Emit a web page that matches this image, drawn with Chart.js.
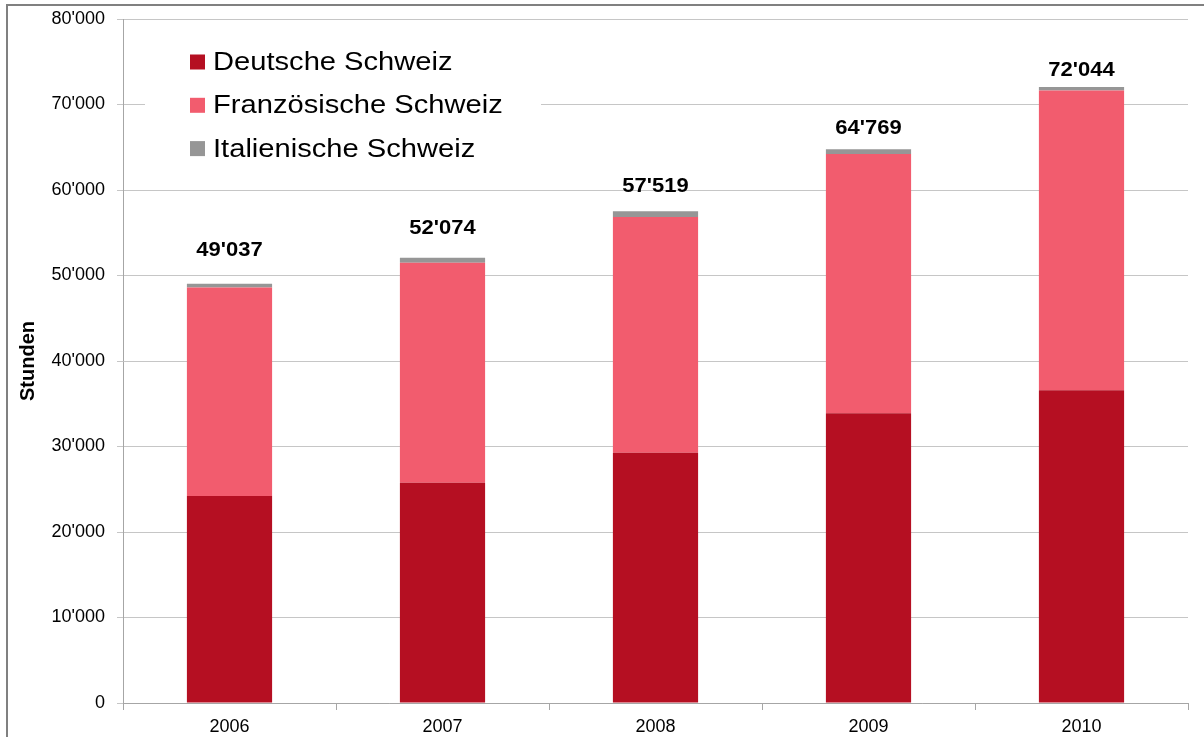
<!DOCTYPE html>
<html>
<head>
<meta charset="utf-8">
<script src="https://cdn.jsdelivr.net/npm/chart.js@4"></script>
<style>
  html, body { margin: 0; padding: 0; background: #fff; }
  #c { display: block; }
</style>
</head>
<body>
<canvas id="c" width="1204" height="737"></canvas>
<script>
// values (Stunden)
var years = ['2006', '2007', '2008', '2009', '2010'];
var deutsch = [24200, 25770, 29270, 33880, 36570];
var franz = [24407, 25719, 27584, 30339, 35074];
var ital = [430, 585, 665, 550, 400];
var seriesNames = ['Deutsche Schweiz', 'Französische Schweiz', 'Italienische Schweiz'];
var seriesColors = ['#b50f22', '#f25c6e', '#969696'];
var yTicks = [0, 10000, 20000, 30000, 40000, 50000, 60000, 70000, 80000];

function fmt(v) {
    return String(v).replace(/\B(?=(\d{3})+(?!\d))/g, "'");
}

// grey frame (only left and top edges are visible)
const framePlugin = {
    id: 'frame',
    beforeDraw(chart) {
        const ctx = chart.ctx;
        ctx.save();
        ctx.fillStyle = '#fff';
        ctx.fillRect(0, 0, chart.width, chart.height);
        ctx.strokeStyle = '#808080';
        ctx.lineWidth = 2;
        ctx.beginPath();
        ctx.moveTo(7, 800);
        ctx.lineTo(7, 5);
        ctx.lineTo(1210, 5);
        ctx.stroke();
        ctx.restore();
    }
};

// legend box sitting inside the plot, plus the totals above the bars
const extrasPlugin = {
    id: 'extras',
    afterDatasetsDraw(chart) {
        const ctx = chart.ctx;
        ctx.save();
        // legend
        ctx.fillStyle = '#fff';
        ctx.fillRect(145, 32, 396, 136);
        ctx.font = '26px "Liberation Sans", Arial, sans-serif';
        ctx.textBaseline = 'middle';
        ctx.textAlign = 'left';
        chart.data.datasets.forEach(function (ds, i) {
            const cy = 62 + i * 43.3;
            ctx.fillStyle = ds.backgroundColor;
            ctx.fillRect(190, cy - 7.5, 15, 15);
            ctx.save();
            ctx.translate(213, cy + 1);
            ctx.scale(1.12, 1);
            ctx.fillStyle = '#000';
            ctx.fillText(ds.label, 0, 0);
            ctx.restore();
        });
        // totals
        const ys = chart.scales.y;
        const meta = chart.getDatasetMeta(0);
        ctx.font = 'bold 20px "Liberation Sans", Arial, sans-serif';
        ctx.textAlign = 'center';
        ctx.textBaseline = 'middle';
        ctx.fillStyle = '#000';
        years.forEach(function (y, i) {
            const total = deutsch[i] + franz[i] + ital[i];
            const x = meta.data[i].x;
            const top = ys.getPixelForValue(total);
            ctx.save();
            ctx.translate(x, top - (33 - 4 * i));
            ctx.scale(1.1, 1);
            ctx.fillText(fmt(total), 0, 0);
            ctx.restore();
        });
        ctx.restore();
    }
};

new Chart(document.getElementById('c'), {
    type: 'bar',
    data: {
        labels: years,
        datasets: [
            { label: seriesNames[0], data: deutsch, backgroundColor: seriesColors[0] },
            { label: seriesNames[1], data: franz, backgroundColor: seriesColors[1] },
            { label: seriesNames[2], data: ital, backgroundColor: seriesColors[2] }
        ]
    },
    options: {
        responsive: false,
        animation: false,
        devicePixelRatio: 1,
        layout: { padding: { left: 0, top: 19, right: 16, bottom: 0 } },
        datasets: { bar: { categoryPercentage: 1, barPercentage: 0.4, borderWidth: 0 } },
        plugins: {
            legend: { display: false },
            tooltip: { enabled: false }
        },
        scales: {
            x: {
                stacked: true,
                grid: { offset: true, drawOnChartArea: false, tickLength: 7, color: '#a6a6a6' },
                border: { color: '#a6a6a6' },
                ticks: {
                    color: '#000',
                    padding: 6,
                    font: { family: '"Liberation Sans", Arial, sans-serif', size: 18 }
                },
                afterFit: function (scale) { scale.height = 34; }
            },
            y: {
                stacked: true,
                min: 0,
                max: 80000,
                afterBuildTicks: function (scale) {
                    scale.ticks = yTicks.map(function (v) { return { value: v }; });
                },
                grid: { color: '#c6c6c6', tickLength: 6 },
                border: { color: '#a6a6a6' },
                ticks: {
                    color: '#000',
                    padding: 12,
                    font: { family: '"Liberation Sans", Arial, sans-serif', size: 18 },
                    callback: function (v) { return fmt(v); }
                },
                title: {
                    display: true,
                    text: 'Stunden',
                    color: '#000',
                    padding: { top: 16, bottom: 0 },
                    font: { family: '"Liberation Sans", Arial, sans-serif', size: 20, weight: 'bold' }
                },
                afterFit: function (scale) {
                    scale.width = 123;
                    scale.paddingTop = 0;
                    scale.paddingBottom = 0;
                }
            }
        }
    },
    plugins: [framePlugin, extrasPlugin]
});
</script>
</body>
</html>
